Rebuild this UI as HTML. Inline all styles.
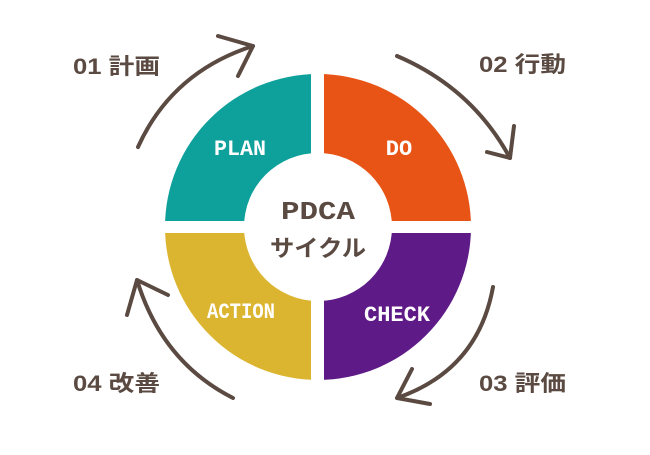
<!DOCTYPE html>
<html><head><meta charset="utf-8"><style>
body{margin:0;width:650px;height:450px;background:#fff;overflow:hidden}
</style></head><body>
<svg width="650" height="450" viewBox="0 0 650 450" xmlns="http://www.w3.org/2000/svg" font-family="'Liberation Sans','Noto Sans CJK JP',sans-serif">
<g transform="translate(318,227)">
<path d="M-153,0 A153,153 0 0 1 0,-153 L0,-74 A74,74 0 0 0 -74,0 Z" fill="#0ea09a"/>
<path d="M0,-153 A153,153 0 0 1 153,0 L74,0 A74,74 0 0 0 0,-74 Z" fill="#e85416"/>
<path d="M153,0 A153,153 0 0 1 0,153 L0,74 A74,74 0 0 0 74,0 Z" fill="#5e1a86"/>
<path d="M0,153 A153,153 0 0 1 -153,0 L-74,0 A74,74 0 0 0 0,74 Z" fill="#dcb530"/>
<rect x="-7" y="-160" width="13" height="320" fill="#fff"/>
<rect x="-160" y="-6" width="320" height="12" fill="#fff"/>
</g>
<g font-weight="bold" fill="#fff" font-size="22" text-anchor="middle" font-family="'Liberation Mono',monospace">
<text x="240" y="155" textLength="52" lengthAdjust="spacingAndGlyphs">PLAN</text>
<text x="399" y="155">DO</text>
<text x="241" y="318" textLength="68" lengthAdjust="spacingAndGlyphs">ACTION</text>
<text x="397" y="321" textLength="66" lengthAdjust="spacingAndGlyphs">CHECK</text>
</g>
<g fill="#5a4a42" font-weight="bold" text-anchor="middle">
<text x="318" y="219" font-size="26" font-family="'Liberation Mono',monospace" textLength="74" lengthAdjust="spacingAndGlyphs">PDCA</text>
<text x="318" y="256" font-size="23" textLength="96" lengthAdjust="spacingAndGlyphs">サイクル</text>
</g>
<g fill="#5a4a42" font-size="22" font-weight="bold">
<text x="73" y="74" textLength="87" lengthAdjust="spacingAndGlyphs">01 計画</text>
<text x="479" y="72" textLength="87" lengthAdjust="spacingAndGlyphs">02 行動</text>
<text x="479" y="391" textLength="87" lengthAdjust="spacingAndGlyphs">03 評価</text>
<text x="73" y="391" textLength="87" lengthAdjust="spacingAndGlyphs">04 改善</text>
</g>
<g fill="none" stroke="#5a4a42" stroke-width="4" stroke-linecap="round" stroke-linejoin="round">
<path d="M138,147 Q172,72 253,46"/>
<path d="M218,36 L253,46 L238,76"/>
<path d="M397,56 Q472,88 510,158"/>
<path d="M487,152 L510,158 L514,126"/>
<path d="M493,287 Q478,370 397,398"/>
<path d="M412,369 L397,398 L430,404"/>
<path d="M233,398 Q162,362 137,280"/>
<path d="M127,315 L137,280 L168,295"/>
</g>
</svg>
</body></html>
